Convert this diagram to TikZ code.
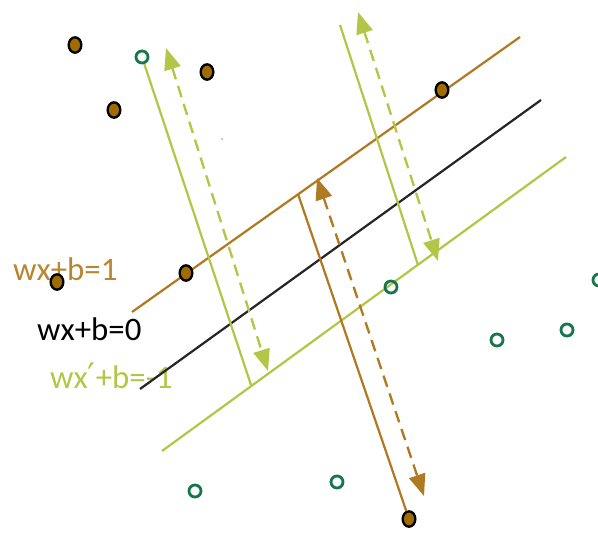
\documentclass[tikz,border=0pt]{standalone}
\usepackage{fontspec}
\setmainfont{Carlito}
\newfontfamily\primefont{DejaVu Sans}
\usepackage{xcolor}
\usetikzlibrary{shapes.geometric, arrows.meta, positioning}

\definecolor{svmbrown}{HTML}{B07A22}
\definecolor{svmdot}{HTML}{A06C00}
\definecolor{svmtext}{HTML}{B8862E}
\definecolor{svmlime}{HTML}{B3C647}
\definecolor{svmgreen}{HTML}{17774A}

\begin{document}
\begin{tikzpicture}[
    x=0.03cm, y=-0.03cm,
    posdot/.style={ellipse, draw=black, line width=2pt, fill=svmdot, minimum width=0.38cm, minimum height=0.46cm, inner sep=0pt},
    negdot/.style={circle, draw=svmgreen, line width=2.4pt, minimum size=0.36cm, inner sep=0pt},
    plane/.style={line width=1.9pt},
    gap/.style={dash pattern=on 10pt off 6pt, line width=2pt, {Triangle[length=0.65cm,width=0.5cm]}-{Triangle[length=0.65cm,width=0.5cm]}},
    eqlabel/.style={anchor=base west, inner sep=0pt, font=\fontsize{28}{30}\selectfont}
]
\useasboundingbox (0,0) rectangle (598,532);

% Labels
\node[eqlabel, text=svmtext] (l1) at (13,280) {wx+b=1};
\node[eqlabel, text=black] (l0) at (37,340) {wx+b=0};
\node[eqlabel, text=svmlime] (lm) at (50,388) {wx{\primefont\fontsize{30}{30}\selectfont ′}+b=-1};

% Hyperplanes
\coordinate (h1a) at (132,312); \coordinate (h1b) at (520,37);
\coordinate (h0a) at (140,389); \coordinate (h0b) at (541,100);
\coordinate (hma) at (162,451); \coordinate (hmb) at (566,157);
\draw[plane, svmbrown] (h1a) -- (h1b);
\draw[plane, black!85] (h0a) -- (h0b);
\draw[plane, svmlime] (hma) -- (hmb);

% Points
\node[posdot] (p1) at (75,45) {};
\node[posdot] (p2) at (114,110) {};
\node[posdot] (p3) at (207,72) {};
\node[posdot] (p4) at (442,90) {};
\node[posdot] (p5) at (186,273) {};
\node[posdot] (p6) at (57,282) {};
\node[posdot] (p7) at (409,519) {};

\node[negdot] (n1) at (142,57) {};
\node[negdot] (n2) at (391,287) {};
\node[negdot] (n3) at (497,340) {};
\node[negdot] (n4) at (567,330) {};
\node[negdot] (n5) at (599,280) {};
\node[negdot] (n6) at (195,491) {};
\node[negdot] (n7) at (337,482) {};

\fill[blue] (222,139) circle (0.6pt);

% Margins
\coordinate (g1) at (251,385);
\coordinate (g2a) at (340,25); \coordinate (g2b) at (418,265);
\coordinate (b1) at (298,194);
\draw[plane, svmlime] (n1) -- (g1);
\draw[plane, svmlime] (g2a) -- (g2b);
\draw[plane, svmbrown] (b1) -- (p7);

\coordinate (d1a) at (166,48); \coordinate (d1b) at (268,371);
\coordinate (d2a) at (358,12); \coordinate (d2b) at (438,261);
\coordinate (d3a) at (317,178); \coordinate (d3b) at (424,496);
\draw[gap, svmlime] (d1a) -- (d1b);
\draw[gap, svmlime] (d2a) -- (d2b);
\draw[gap, svmbrown] (d3a) -- (d3b);

\end{tikzpicture}
\end{document}
